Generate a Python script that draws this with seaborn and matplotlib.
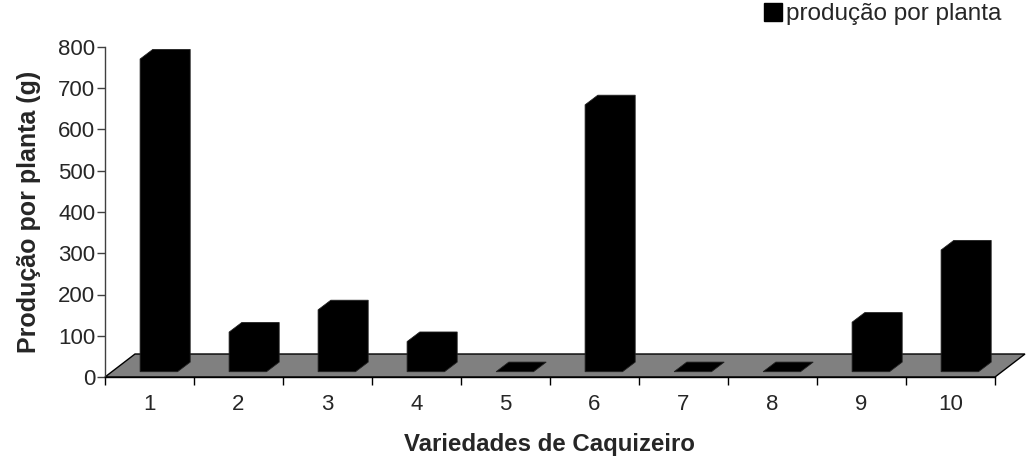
import matplotlib
matplotlib.use("Agg")
import matplotlib.pyplot as plt
import seaborn as sns
import pandas as pd
from matplotlib.patches import Polygon, Patch

# Production per plant (g) for each persimmon variety
variedades = ["1", "2", "3", "4", "5", "6", "7", "8", "9", "10"]
producao = [758, 96, 150, 73, 0, 647, 0, 0, 120, 295]
y_ticks = [0, 100, 200, 300, 400, 500, 600, 700, 800]
serie = "produção por planta"

sns.set_theme(style="white")
plt.rcParams["font.family"] = ["Liberation Sans", "DejaVu Sans"]

W, H = 1026, 462
fig = plt.figure(figsize=(W / 100, H / 100), dpi=100)
ax_left, ax_right, ax_bottom, ax_top = 105, 995, 377, 47
ax = fig.add_axes([ax_left / W, 1 - ax_bottom / H,
                   (ax_right - ax_left) / W, (ax_bottom - ax_top) / H])

df = pd.DataFrame({"variedade": variedades, "producao": producao})
sns.barplot(data=df, x="variedade", y="producao", color="black",
            saturation=1, width=0.42, ax=ax, zorder=4)

ax.set_xlim(-0.5, len(variedades) - 0.5)
ax.set_ylim(0, 800)

# pixel -> data conversion for the pseudo-3D offsets
px_x = (ax_right - ax_left) / len(variedades)
px_y = (ax_bottom - ax_top) / 800.0

def off(dx_px, dy_px):
    return dx_px / px_x, dy_px / px_y

# floor plane
fdx, fdy = off(30, 23)
x0, x1 = -0.5, len(variedades) - 0.5
floor = Polygon([(x0, 0), (x1, 0), (x1 + fdx, fdy), (x0 + fdx, fdy)],
                closed=True, facecolor="#808080", edgecolor="black",
                linewidth=1.0, clip_on=False, zorder=1)

# extrude each bar backwards into the floor
sx, sy = off(9.3, 5.3)
dx, dy = off(12.7, 9.6)
for bar in list(ax.patches):
    bx, bw, bh = bar.get_x(), bar.get_width(), bar.get_height()
    bar.set_visible(False)
    left, right = bx + sx, bx + bw + sx
    base = sy
    top = bh + sy
    verts = [(left, base), (left, top), (left + dx, top + dy),
             (right + dx, top + dy), (right + dx, base + dy), (right, base)]
    ax.add_patch(Polygon(verts, closed=True, facecolor="black",
                         edgecolor="#222222", linewidth=0.6,
                         clip_on=False, zorder=4))
ax.add_patch(floor)

# axes styling
for side in ("top", "right"):
    ax.spines[side].set_visible(False)
ax.spines["left"].set_color("#404040")
ax.spines["bottom"].set_color("black")
ax.spines["left"].set_linewidth(1.0)
ax.spines["bottom"].set_linewidth(1.0)
ax.spines["left"].set_zorder(5)
ax.spines["bottom"].set_zorder(5)

ax.set_yticks(y_ticks)
ax.tick_params(axis="y", direction="out", length=6, width=1,
               color="#404040", labelsize=16, pad=1, left=True)
ax.set_xticks(range(len(variedades)))
ax.set_xticklabels(variedades)
ax.set_xticks([i - 0.5 for i in range(len(variedades) + 1)], minor=True)
ax.tick_params(axis="x", which="major", length=0, labelsize=16, pad=12)
ax.tick_params(axis="x", which="minor", direction="out", length=6,
               width=1, color="black", bottom=True)

ax.set_xlabel("Variedades de Caquizeiro", fontsize=17.3, fontweight="bold",
              labelpad=13)
ax.set_ylabel("Produção por planta (g)", fontsize=18, fontweight="bold",
              labelpad=12)

handle = Patch(facecolor="black", edgecolor="black")
ax.legend([handle], [serie], loc="upper right",
          bbox_to_anchor=(1001 / W, 1 - 3 / H),
          bbox_transform=fig.transFigure, frameon=False,
          fontsize=17.5, handlelength=0.75, handleheight=0.75,
          handletextpad=0.15, borderaxespad=0, borderpad=0)

fig.savefig("out.png", dpi=100)
